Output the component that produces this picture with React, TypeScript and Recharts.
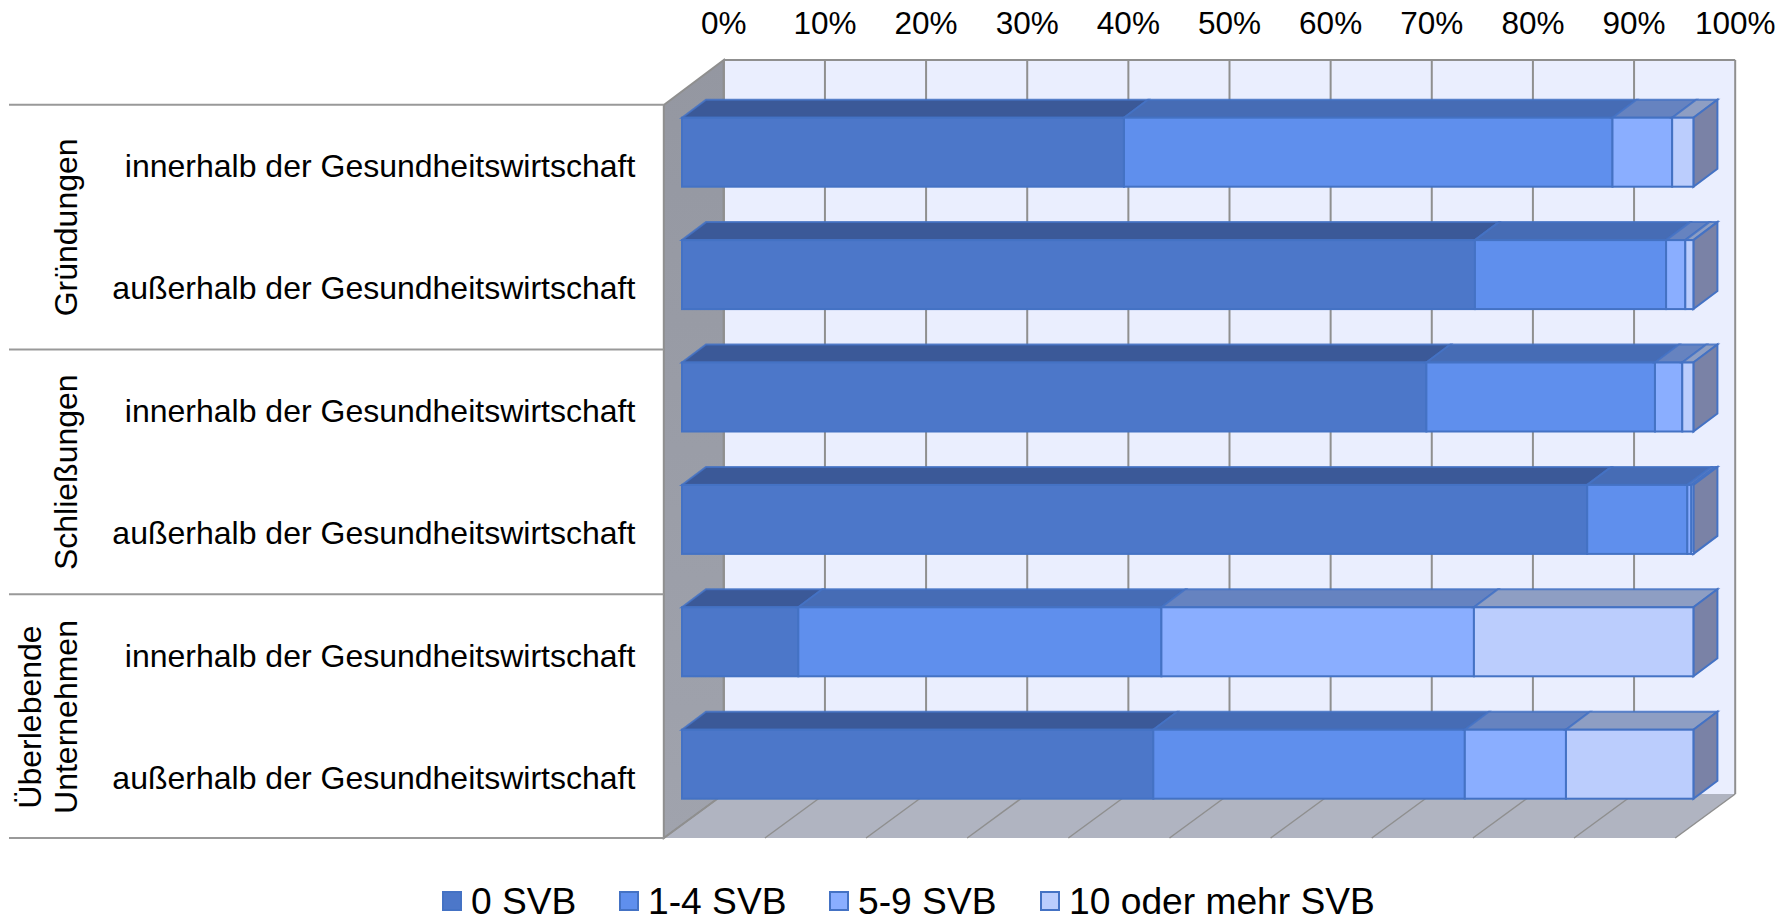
import React from "react";
import { BarChart, Bar, XAxis, YAxis, Legend } from "recharts";

const categories = [
  "innerhalb der Gesundheitswirtschaft",
  "außerhalb der Gesundheitswirtschaft",
  "innerhalb der Gesundheitswirtschaft",
  "außerhalb der Gesundheitswirtschaft",
  "innerhalb der Gesundheitswirtschaft",
  "außerhalb der Gesundheitswirtschaft",
];
const groups: string[][] = [["Gründungen"], ["Schließungen"], ["Überlebende", "Unternehmen"]];
const svb0 = [43.7, 78.4, 73.6, 89.5, 11.5, 46.6];
const svb1to4 = [48.3, 18.9, 22.6, 9.9, 35.9, 30.8];
const svb5to9 = [5.9, 1.9, 2.7, 0.4, 30.9, 10.0];
const svb10plus = [2.1, 0.8, 1.1, 0.2, 21.7, 12.6];
const xTicks = [0, 10, 20, 30, 40, 50, 60, 70, 80, 90, 100];

const seriesNames = ["0 SVB", "1-4 SVB", "5-9 SVB", "10 oder mehr SVB"];
const frontColors = ["#4C77C9", "#5F8FED", "#8AAEFF", "#BBCDFD"];
const topColors = ["#3B5998", "#466CB5", "#6683C0", "#8E9EC3"];
const sideColor = "#7A82A6";
const edge = "#4472C4";

const data = categories.map((category, i) => ({
  category,
  s0: svb0[i],
  s1: svb1to4[i],
  s2: svb5to9[i],
  s3: svb10plus[i],
}));

const W = 1789;
const H = 917;
const FONT = "'Liberation Sans', Arial, sans-serif";
const plotL = 682;
const plotR = 1693.4;
const plotT = 90.7;
const plotB = 825.1;
const barDX = 24;
const barDY = -18;
const wallDX = 41.8; // front of the bars to the back wall
const wallL = plotL + wallDX;
const wallR = plotR + wallDX;
const wallT = 60;
const wallB = 794;
const floorL = wallL - 60;
const floorR = wallR - 60;
const floorB = 838;
const floorT = 105;
const gridC = "#8F8F8F";

const Box = (props: any) => {
  const { x, y, width, height, fill, top, last } = props;
  if (!(width > 0)) return null;
  return (
    <g>
      <polygon
        points={`${x},${y} ${x + width},${y} ${x + width + barDX},${y + barDY} ${x + barDX},${y + barDY}`}
        fill={top}
        stroke={edge}
        strokeWidth={2}
        strokeOpacity={0.85}
      />
      {last && (
        <polygon
          points={`${x + width},${y} ${x + width + barDX},${y + barDY} ${x + width + barDX},${y + height + barDY} ${x + width},${y + height}`}
          fill={sideColor}
          stroke={edge}
          strokeWidth={2}
        />
      )}
      <rect x={x} y={y} width={width} height={height} fill={fill} stroke={edge} strokeWidth={2} />
    </g>
  );
};

const TopTick = (props: any) => (
  <text
    x={props.x + wallDX}
    y={34}
    textAnchor="middle"
    fontFamily={FONT}
    fontSize={31.5}
    fill="#000"
  >
    {props.payload.value}%
  </text>
);

const LeftTick = (props: any) => {
  const { x, y, payload } = props;
  const i = payload.index;
  const lineX1 = 9;
  const lineX2 = floorL;
  const group = groups[Math.floor(i / 2)];
  return (
    <g>
      <text x={x - 46.7} y={y + 25} textAnchor="end" fontFamily={FONT} fontSize={32} fill="#000">
        {payload.value}
      </text>
      {i % 2 === 0 && <line x1={lineX1} x2={lineX2} y1={y - 47.2} y2={y - 47.2} stroke="#999" strokeWidth={2} />}
      {i === categories.length - 1 && (
        <line x1={lineX1} x2={lineX2} y1={floorB} y2={floorB} stroke="#999" strokeWidth={2} />
      )}
      {i % 2 === 0 &&
        group.map((g, k) => {
          const bx = 77 - (group.length - 1 - k) * 36;
          const cy = y + 75.5;
          return (
            <text
              key={g}
              x={bx}
              y={cy}
              transform={`rotate(-90 ${bx} ${cy})`}
              textAnchor="middle"
              fontFamily={FONT}
              fontSize={32}
              fill="#000"
            >
              {g}
            </text>
          );
        })}
    </g>
  );
};

const legendStarts = [442, 619, 829, 1040];
const LegendContent = () => (
  <div style={{ position: "relative", height: 50, width: W, fontFamily: FONT, fontSize: 37.2, color: "#000" }}>
    {seriesNames.map((name, i) => (
      <div key={name} style={{ position: "absolute", left: legendStarts[i], top: 20, height: 30, whiteSpace: "nowrap", lineHeight: "30px" }}>
        <span
          style={{
            position: "absolute",
            left: 0,
            top: 5,
            width: 16,
            height: 16,
            background: frontColors[i],
            border: `2px solid ${edge}`,
          }}
        />
        <span style={{ display: "inline-block", height: 30, lineHeight: "30px", marginLeft: 29 }}>{name}</span>
      </div>
    ))}
  </div>
);

const Room = () => {
  const step = (wallR - wallL) / (xTicks.length - 1);
  return (
    <g>
      <defs>
        <linearGradient id="leftWall" x1="0" y1="0" x2="0" y2="1">
          <stop offset="0" stopColor="#9497A1" />
          <stop offset="1" stopColor="#A0A3AD" />
        </linearGradient>
      </defs>
      <rect x={wallL} y={wallT} width={wallR - wallL} height={wallB - wallT} fill="#EAEEFE" />
      <polygon
        points={`${floorL},${floorB} ${wallL},${wallB} ${wallR},${wallB} ${floorR},${floorB}`}
        fill="#B0B4C1"
      />
      <polygon
        points={`${floorL},${floorT} ${wallL},${wallT} ${wallL},${wallB} ${floorL},${floorB}`}
        fill="url(#leftWall)"
        stroke={gridC}
        strokeWidth={2}
      />
      {xTicks.map((t, i) => (
        <g key={t}>
          <line x1={wallL + i * step} x2={wallL + i * step} y1={wallT} y2={wallB} stroke={gridC} strokeWidth={2} />
          <line
            x1={floorL + i * step}
            x2={wallL + i * step}
            y1={floorB}
            y2={wallB}
            stroke={gridC}
            strokeWidth={1.5}
          />
        </g>
      ))}
      <line x1={wallL} x2={wallR} y1={wallT} y2={wallT} stroke={gridC} strokeWidth={2} />
    </g>
  );
};

export default function App() {
  const keys = ["s0", "s1", "s2", "s3"];
  return (
    <div style={{ position: "absolute", left: 0, top: 0, width: W, height: H, background: "#fff" }}>
      <BarChart
        width={W}
        height={H}
        data={data}
        layout="vertical"
        barSize={69}
        margin={{ left: plotL - 600, right: W - plotR, top: plotT - 40, bottom: H - plotB }}
      >
        <Room />
        <XAxis
          type="number"
          orientation="top"
          domain={[0, 100]}
          ticks={xTicks}
          height={40}
          axisLine={false}
          tickLine={false}
          tick={<TopTick />}
          interval={0}
        />
        <YAxis
          type="category"
          dataKey="category"
          width={600}
          axisLine={false}
          tickLine={false}
          tickSize={0}
          tickMargin={0}
          interval={0}
          tick={<LeftTick />}
        />
        {keys.map((k, i) => (
          <Bar
            key={k}
            dataKey={k}
            name={seriesNames[i]}
            stackId="a"
            fill={frontColors[i]}
            isAnimationActive={false}
            shape={(p: any) => <Box {...p} fill={frontColors[i]} top={topColors[i]} last={i === keys.length - 1} />}
          />
        ))}
        <Legend
          layout="horizontal"
          verticalAlign="middle"
          wrapperStyle={{ left: 0, top: 866, width: W }}
          content={<LegendContent />}
        />
      </BarChart>
    </div>
  );
}
